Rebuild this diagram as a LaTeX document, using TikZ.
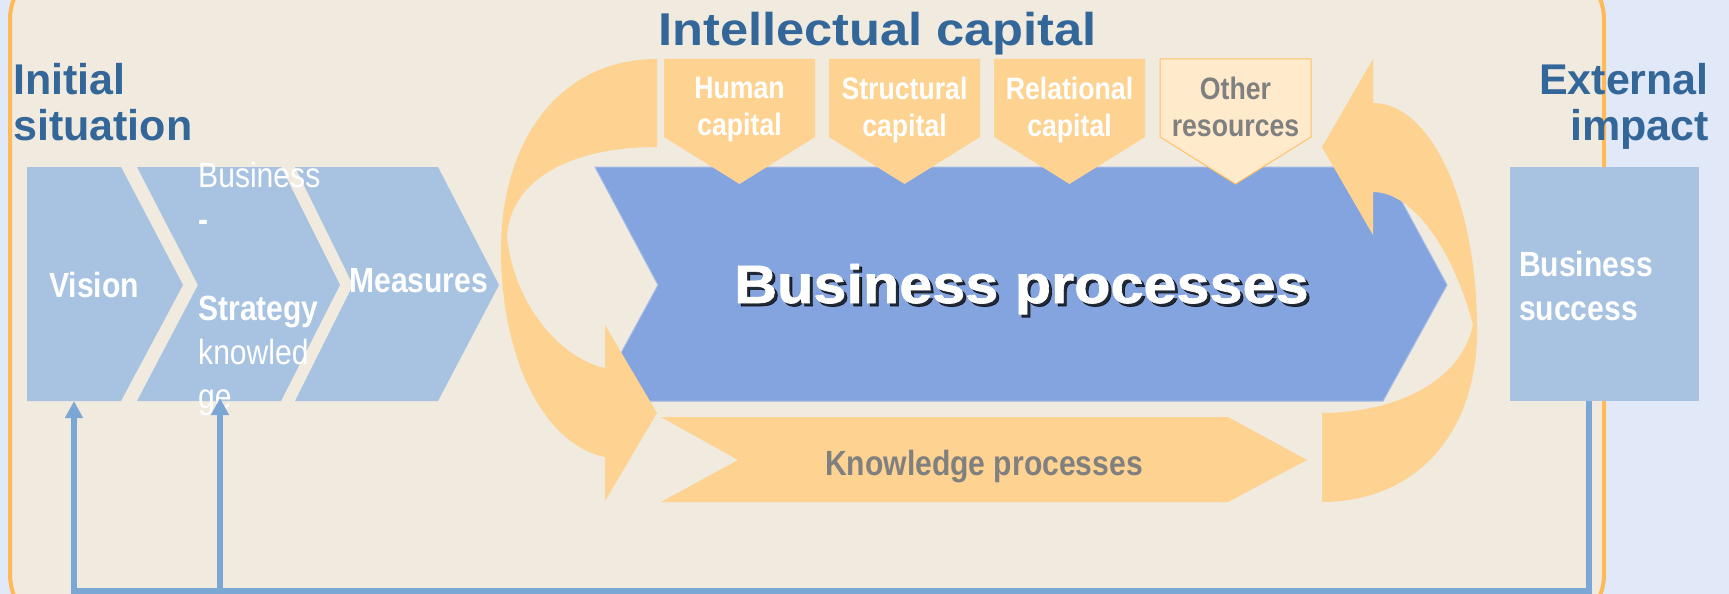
\documentclass[tikz,border=0pt]{standalone}
\usepackage{fontspec}
\setmainfont{Liberation Sans}
\newfontfamily\labelfont[FakeStretch=0.86]{Liberation Sans}
\newfontfamily\widefont[FakeStretch=1.1]{Liberation Sans}
\newfontfamily\heavyfont[FakeStretch=1.1,FakeBold=1.2]{Liberation Sans Bold}
\usetikzlibrary{arrows.meta}

\definecolor{outerbg}{HTML}{E1E8F7}
\definecolor{beige}{HTML}{F0EADF}
\definecolor{frameorange}{HTML}{FFB957}
\definecolor{stepblue}{HTML}{A7C3E1}
\definecolor{procblue}{HTML}{84A4DF}
\definecolor{caporange}{HTML}{FED290}
\definecolor{otherfill}{HTML}{FFEACC}
\definecolor{otherline}{HTML}{FFC266}
\definecolor{titleblue}{HTML}{336699}
\definecolor{labelgrey}{HTML}{808080}
\definecolor{loopblue}{HTML}{7BA7D4}

\tikzset{
    headline/.style={text=titleblue, inner sep=0pt,
        font=\fontsize{43}{46.5}\selectfont\bfseries},
    steplabel/.style={text=white, inner sep=0pt,
        font=\labelfont\fontsize{35}{44.2}\selectfont\bfseries},
    caplabel/.style={inner sep=0pt, align=center,
        font=\labelfont\fontsize{31}{37}\selectfont\bfseries},
    bigtext/.style={inner sep=0pt, anchor=base,
        font=\heavyfont\fontsize{54}{60}\selectfont},
    successbox/.style={steplabel, fill=stepblue, align=left,
        minimum width=189pt, minimum height=234pt, text width=171pt,
        inner xsep=9pt, inner ysep=0pt},
    loopline/.style={draw=loopblue, line width=6pt},
}

\begin{document}
\begin{tikzpicture}[x=1pt, y=-1pt]

% frame
\useasboundingbox (0,0) rectangle (1729,594);
\clip (0,0) rectangle (1729,594);
\fill[outerbg] (0,0) rectangle (1729,594);
\filldraw[fill=beige, draw=frameorange, line width=4pt, rounded corners=60pt]
    (10,-40) rectangle (1604,634);


% headings
\node[headline, align=left, anchor=north west] (initial) at (13,63) {Initial\\situation};
\node[headline, align=right, anchor=north east] (external) at (1709,63) {External\\impact};
\node[headline, anchor=base, font=\widefont\fontsize{46}{52}\selectfont\bfseries]
    (intellectual) at (877.5,46) {Intellectual capital};


% initial steps
\begin{scope}[fill=stepblue]
    \fill (27,167) -- (121,167) -- (183,285) -- (121,401) -- (27,401) -- cycle;
    \fill (137,167) -- (281,167) -- (340,285) -- (281,401) -- (137,401) -- (198,285) -- cycle;
    \fill (295,167) -- (438,167) -- (499,285) -- (438,401) -- (295,401) -- (353,285) -- cycle;
\end{scope}
\node[steplabel, anchor=base west] (vision) at (49,297) {Vision};
\node[steplabel, anchor=north west, align=left] (strategy) at (198,162)
    {{\mdseries Business}\\-\\\mbox{}\\Strategy\\{\mdseries knowled}\\{\mdseries ge}};
\node[steplabel, anchor=base west] (measures) at (349,292) {Measures};


% processes
\filldraw[fill=procblue, draw=procblue!75!white, line width=1pt]
    (595,167) -- (1383,167) -- (1447,285) -- (1383,401) -- (595,401) -- (658,285) -- cycle;
\fill[caporange]
    (661,417) -- (1228,417) -- (1307,460) -- (1228,502) -- (661,502) -- (738,460) -- cycle;
\node[steplabel, text=labelgrey, anchor=base] (knowledge) at (984,475) {Knowledge processes};


% intellectual capital
\begin{scope}[fill=caporange]
    \fill (664,59) -- ++(151,0) -- ++(0,78) -- ++(-75.5,47) -- ++(-75.5,-47) -- cycle;
    \fill (829,59) -- ++(151,0) -- ++(0,78) -- ++(-75.5,47) -- ++(-75.5,-47) -- cycle;
    \fill (994,59) -- ++(151,0) -- ++(0,78) -- ++(-75.5,47) -- ++(-75.5,-47) -- cycle;
\end{scope}
\filldraw[fill=otherfill, draw=otherline, line width=1pt]
    (1160,59) -- ++(151,0) -- ++(0,78) -- ++(-75.5,47) -- ++(-75.5,-47) -- cycle;

\node[caplabel, text=white, anchor=north] (human) at (739.5,77) {Human\\capital};
\node[caplabel, text=white, anchor=north] (structural) at (904.5,77) {Structural\\capital};
\node[caplabel, text=white, anchor=north] (relational) at (1069.5,77) {Relational\\capital};
\node[caplabel, text=labelgrey, anchor=north] (other) at (1235.5,77) {Other\\resources};


% cycle arrows
\fill[caporange] (657,59)
    .. controls (560,59) and (501,140) .. (501,250)
    .. controls (501,360) and (545,445) .. (605,457)
    -- (605,501) -- (657,413) -- (605,325) -- (605,368)
    .. controls (565,360) and (515,310) .. (507,237)
    .. controls (510,180) and (570,147) .. (657,147) -- cycle;
\fill[caporange] (1373,103)
    .. controls (1430,103) and (1477,200) .. (1477,330)
    .. controls (1477,440) and (1410,502) .. (1322,502)
    -- (1322,413)
    .. controls (1390,413) and (1460,385) .. (1473,325)
    .. controls (1455,255) and (1415,192) .. (1373,192)
    -- (1373,235) -- (1322,147) -- (1373,59) -- cycle;

\node[bigtext, text=black, opacity=0.75] (bp-shadow) at (1024.5,306) {Business processes};
\node[bigtext, text=white] (business) at (1021.5,303) {Business processes};


% result and feedback
\node[successbox] (success) at (1604.5,284) {\rule{0pt}{29pt}Business\\success};

\coordinate (vision-foot) at (74,401);
\coordinate (strategy-foot) at (220,398);
\draw[loopline, -{Triangle[width=17pt,length=17pt]}]
    ([xshift=-15.5pt]success.south) -- ++(0,190) coordinate (loop) -| (vision-foot);
\draw[loopline, -{Triangle[width=17pt,length=17pt]}]
    (strategy-foot |- loop) -- (strategy-foot);

\end{tikzpicture}
\end{document}
